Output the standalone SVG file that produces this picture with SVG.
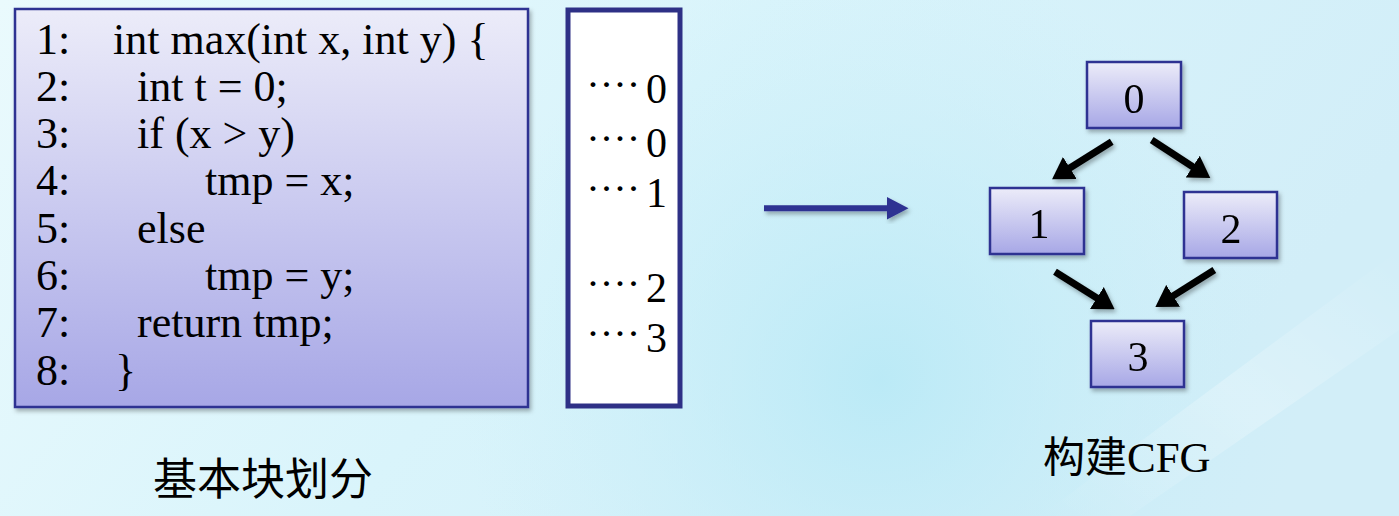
<svg xmlns="http://www.w3.org/2000/svg" width="1399" height="516" viewBox="0 0 1399 516">
<defs>
<linearGradient id="bg" x1="0" y1="0" x2="1" y2="0.3">
<stop offset="0" stop-color="#eafafd"/>
<stop offset="0.5" stop-color="#d9f4fb"/>
<stop offset="1" stop-color="#d2eef8"/>
</linearGradient>
<radialGradient id="glow" cx="880" cy="380" r="420" gradientUnits="userSpaceOnUse">
<stop offset="0" stop-color="#b8e9f6" stop-opacity="0.9"/>
<stop offset="1" stop-color="#c8eef8" stop-opacity="0"/>
</radialGradient>
<linearGradient id="streak" x1="0" y1="1" x2="1" y2="0">
<stop offset="0" stop-color="#ffffff" stop-opacity="0"/>
<stop offset="0.5" stop-color="#ffffff" stop-opacity="0.25"/>
<stop offset="1" stop-color="#ffffff" stop-opacity="0"/>
</linearGradient>
<linearGradient id="fillg" x1="0" y1="0" x2="0" y2="1">
<stop offset="0" stop-color="#ececf9"/>
<stop offset="1" stop-color="#a7a7e6"/>
</linearGradient>
<filter id="sh" x="-10%" y="-10%" width="130%" height="130%">
<feDropShadow dx="2" dy="3" stdDeviation="2" flood-color="#000" flood-opacity="0.3"/>
</filter>
<marker id="ah" markerUnits="userSpaceOnUse" markerWidth="21" markerHeight="26" viewBox="0 0 21 26" refX="1" refY="13" orient="auto">
<path d="M0,0 L21,13 L0,26 z" fill="#000"/>
</marker>
<style>
.code{font-size:44px;fill:#000}
.num{font-size:42px;fill:#000}
.dots{font-size:30px;font-weight:bold;fill:#000;letter-spacing:3.5px}
.node{fill:url(#fillg);stroke:#2e3192;stroke-width:2.5}
.edge{stroke:#000;stroke-width:7;fill:none;marker-end:url(#ah)}
</style>
</defs>
<rect width="1399" height="516" fill="url(#bg)"/>
<rect width="1399" height="516" fill="url(#glow)"/>
<path d="M1399,250 L1399,330 L1130,516 L1040,516 z" fill="url(#streak)"/>

<g id="code-block" font-family="Liberation Serif, Times New Roman, DejaVu Serif, serif">
<rect x="15" y="9" width="513" height="398" fill="url(#fillg)" stroke="#2e3192" stroke-width="2.5" filter="url(#sh)"/>
<text class="code" x="36" y="53.5">1:</text><text class="code" x="113" y="53.5">int max(int x, int y) {</text>
<text class="code" x="36" y="100.8">2:</text><text class="code" x="137" y="100.8">int t = 0;</text>
<text class="code" x="36" y="148.1">3:</text><text class="code" x="137" y="148.1">if (x &gt; y)</text>
<text class="code" x="36" y="195.4">4:</text><text class="code" x="205" y="195.4">tmp = x;</text>
<text class="code" x="36" y="242.7">5:</text><text class="code" x="137" y="242.7">else</text>
<text class="code" x="36" y="290">6:</text><text class="code" x="205" y="290">tmp = y;</text>
<text class="code" x="36" y="337.3">7:</text><text class="code" x="137" y="337.3">return tmp;</text>
<text class="code" x="36" y="384.6">8:</text><text class="code" x="115" y="384.6">}</text>
</g>

<g id="block-ids" font-family="Liberation Serif, Times New Roman, DejaVu Serif, serif">
<rect x="568" y="10" width="112" height="396" fill="#ffffff" stroke="#2e3086" stroke-width="5"/>
<text class="dots" x="588" y="94">····</text><text class="num" x="646" y="103">0</text>
<text class="dots" x="588" y="148">····</text><text class="num" x="646" y="157">0</text>
<text class="dots" x="588" y="198">····</text><text class="num" x="646" y="207">1</text>
<text class="dots" x="588" y="293">····</text><text class="num" x="646" y="302">2</text>
<text class="dots" x="588" y="343">····</text><text class="num" x="646" y="352">3</text>
</g>

<g id="transform-arrow" filter="url(#sh)">
<path d="M764,205.3 L887,205.3 L887,197 L908.5,208.3 L887,219.5 L887,211.3 L764,211.3 z" fill="#2e3192"/>
</g>

<g id="node0" filter="url(#sh)" font-family="Liberation Serif, Times New Roman, DejaVu Serif, serif">
<rect class="node" x="1087" y="62" width="94" height="66"/>
<text class="num" x="1134" y="113" text-anchor="middle">0</text>
</g>
<g id="node1" filter="url(#sh)" font-family="Liberation Serif, Times New Roman, DejaVu Serif, serif">
<rect class="node" x="990" y="188" width="94" height="66"/>
<text class="num" x="1039" y="238" text-anchor="middle">1</text>
</g>
<g id="node2" filter="url(#sh)" font-family="Liberation Serif, Times New Roman, DejaVu Serif, serif">
<rect class="node" x="1184" y="192" width="93" height="66"/>
<text class="num" x="1231" y="243" text-anchor="middle">2</text>
</g>
<g id="node3" filter="url(#sh)" font-family="Liberation Serif, Times New Roman, DejaVu Serif, serif">
<rect class="node" x="1091" y="321" width="93" height="66"/>
<text class="num" x="1138" y="371" text-anchor="middle">3</text>
</g>

<g id="connectors" filter="url(#sh)">
<line class="edge" x1="1111.7" y1="141.7" x2="1069" y2="168.5"/>
<line class="edge" x1="1151.7" y1="140" x2="1193.5" y2="167.2"/>
<line class="edge" x1="1055" y1="271.7" x2="1097.7" y2="298.5"/>
<line class="edge" x1="1214.3" y1="270" x2="1172.3" y2="296.4"/>
</g>

<g id="captions">
<text x="263" y="495" text-anchor="middle" font-family="Noto Sans CJK SC, sans-serif" font-size="44">基本块划分</text>
<text x="1043" y="472" font-size="43" font-family="Liberation Serif, Times New Roman, DejaVu Serif, serif"><tspan font-family="Noto Sans CJK SC, sans-serif" font-size="42">构建</tspan>CFG</text>
</g>
</svg>
